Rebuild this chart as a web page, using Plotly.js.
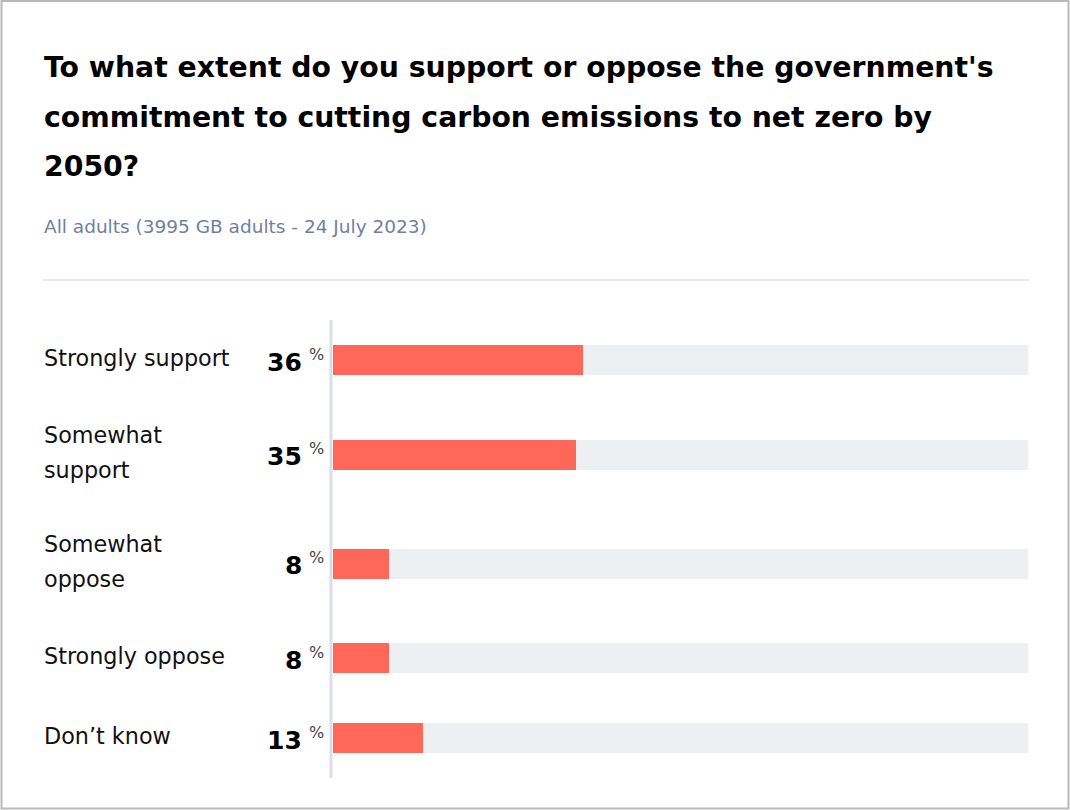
<!DOCTYPE html>
<html>
<head>
<meta charset="utf-8">
<script src="https://cdn.plot.ly/plotly-3.0.1.min.js"></script>
<style>html,body{margin:0;padding:0;background:#fff;}#chart{width:1070px;height:810px;}</style>
</head>
<body>
<div id="chart"></div>
<script>
// ---- data ----
const titleLines = [
  "To what extent do you support or oppose the government's",
  "commitment to cutting carbon emissions to net zero by",
  "2050?"
];
const subtitle = "All adults (3995 GB adults - 24 July 2023)";
const categories = ["Strongly support", "Somewhat<br>support", "Somewhat<br>oppose", "Strongly oppose", "Don\u2019t know"];
const values = [36, 35, 8, 8, 13];
const fullScale = [100, 100, 100, 100, 100];

// ---- layout constants ----
const W = 1070, H = 810;
const M = {l: 333, r: 42, t: 320, b: 32};
const PW = W - M.l - M.r, PH = H - M.t - M.b;
const px = x => (x - M.l) / PW;
const py = y => (H - M.b - y) / PH;
const ROW1 = 80, ROW2 = 109, BARW = 30, LINEGAP = 35;

// row centres derived from number of label lines
const lineCounts = categories.map(c => c.split("<br>").length);
const centers = [];
let acc = 0;
lineCounts.forEach(n => { const h = n > 1 ? ROW2 : ROW1; centers.push(acc + h / 2); acc += h; });

const red = "#ff6759", grey = "#eeeff3";

const traces = [
  {type: "bar", orientation: "h", x: fullScale, y: centers, width: BARW,
   marker: {color: grey, line: {width: 0}}, hoverinfo: "skip", showlegend: false},
  {type: "bar", orientation: "h", x: values, y: centers, width: BARW,
   marker: {color: red, line: {width: 0}}, showlegend: false,
   hovertemplate: "%{x}%<extra></extra>"}
];

const ann = [];
titleLines.forEach((t, i) => {
  ann.push({xref: "paper", yref: "paper", x: px(42), y: py(67.5 + i * 49.5), xanchor: "left", yanchor: "middle",
    text: "<b>" + t + "</b>", showarrow: false, font: {family: "DejaVu Sans, sans-serif", size: 28.3, color: "#000"}});
});
ann.push({xref: "paper", yref: "paper", x: px(42), y: py(226), xanchor: "left", yanchor: "middle",
  text: subtitle, showarrow: false, font: {family: "DejaVu Sans, sans-serif", size: 18.5, color: "#6f7fa6"}});

categories.forEach((c, i) => {
  const parts = c.split("<br>");
  parts.forEach((p, j) => {
    const off = (j - (parts.length - 1) / 2) * LINEGAP;
    ann.push({xref: "paper", yref: "y", x: px(42), y: centers[i], yshift: -off + 2, xanchor: "left", yanchor: "middle",
      text: p, showarrow: false, font: {family: "DejaVu Sans, sans-serif", size: 22.3, color: "#111"}});
  });
  ann.push({xref: "paper", yref: "y", x: px(304), y: centers[i], yshift: -2, xanchor: "right", yanchor: "middle",
    text: "<b>" + values[i] + "</b>", showarrow: false, font: {family: "DejaVu Sans, sans-serif", size: 25, color: "#000"}});
  ann.push({xref: "paper", yref: "y", x: px(307), y: centers[i], yshift: 6, xanchor: "left", yanchor: "middle",
    text: "%", showarrow: false, font: {family: "DejaVu Sans, sans-serif", size: 16, color: "#444"}});
});

const shapes = [
  // outer frame
  {type: "rect", xref: "paper", yref: "paper", x0: px(1.5), x1: px(1068.5), y0: py(1), y1: py(808.5),
   line: {color: "#b9b9b9", width: 2}, fillcolor: "rgba(0,0,0,0)", layer: "below"},
  // separator rule
  {type: "line", xref: "paper", yref: "paper", x0: px(43), x1: px(1029), y0: py(280), y1: py(280),
   line: {color: "#e6e9f0", width: 2}},
  // vertical axis line
  {type: "line", xref: "paper", yref: "paper", x0: px(331), x1: px(331), y0: py(320), y1: py(778),
   line: {color: "#d9dee7", width: 3}}
];

const layout = {
  width: W, height: H, margin: M,
  paper_bgcolor: "#fff", plot_bgcolor: "#fff",
  barmode: "overlay", bargap: 0,
  xaxis: {range: [0, 100], visible: false, fixedrange: true},
  yaxis: {range: [acc, 0], visible: false, fixedrange: true},
  annotations: ann, shapes: shapes,
  showlegend: false
};

Plotly.newPlot("chart", traces, layout, {displayModeBar: false, staticPlot: true});
</script>
</body>
</html>
